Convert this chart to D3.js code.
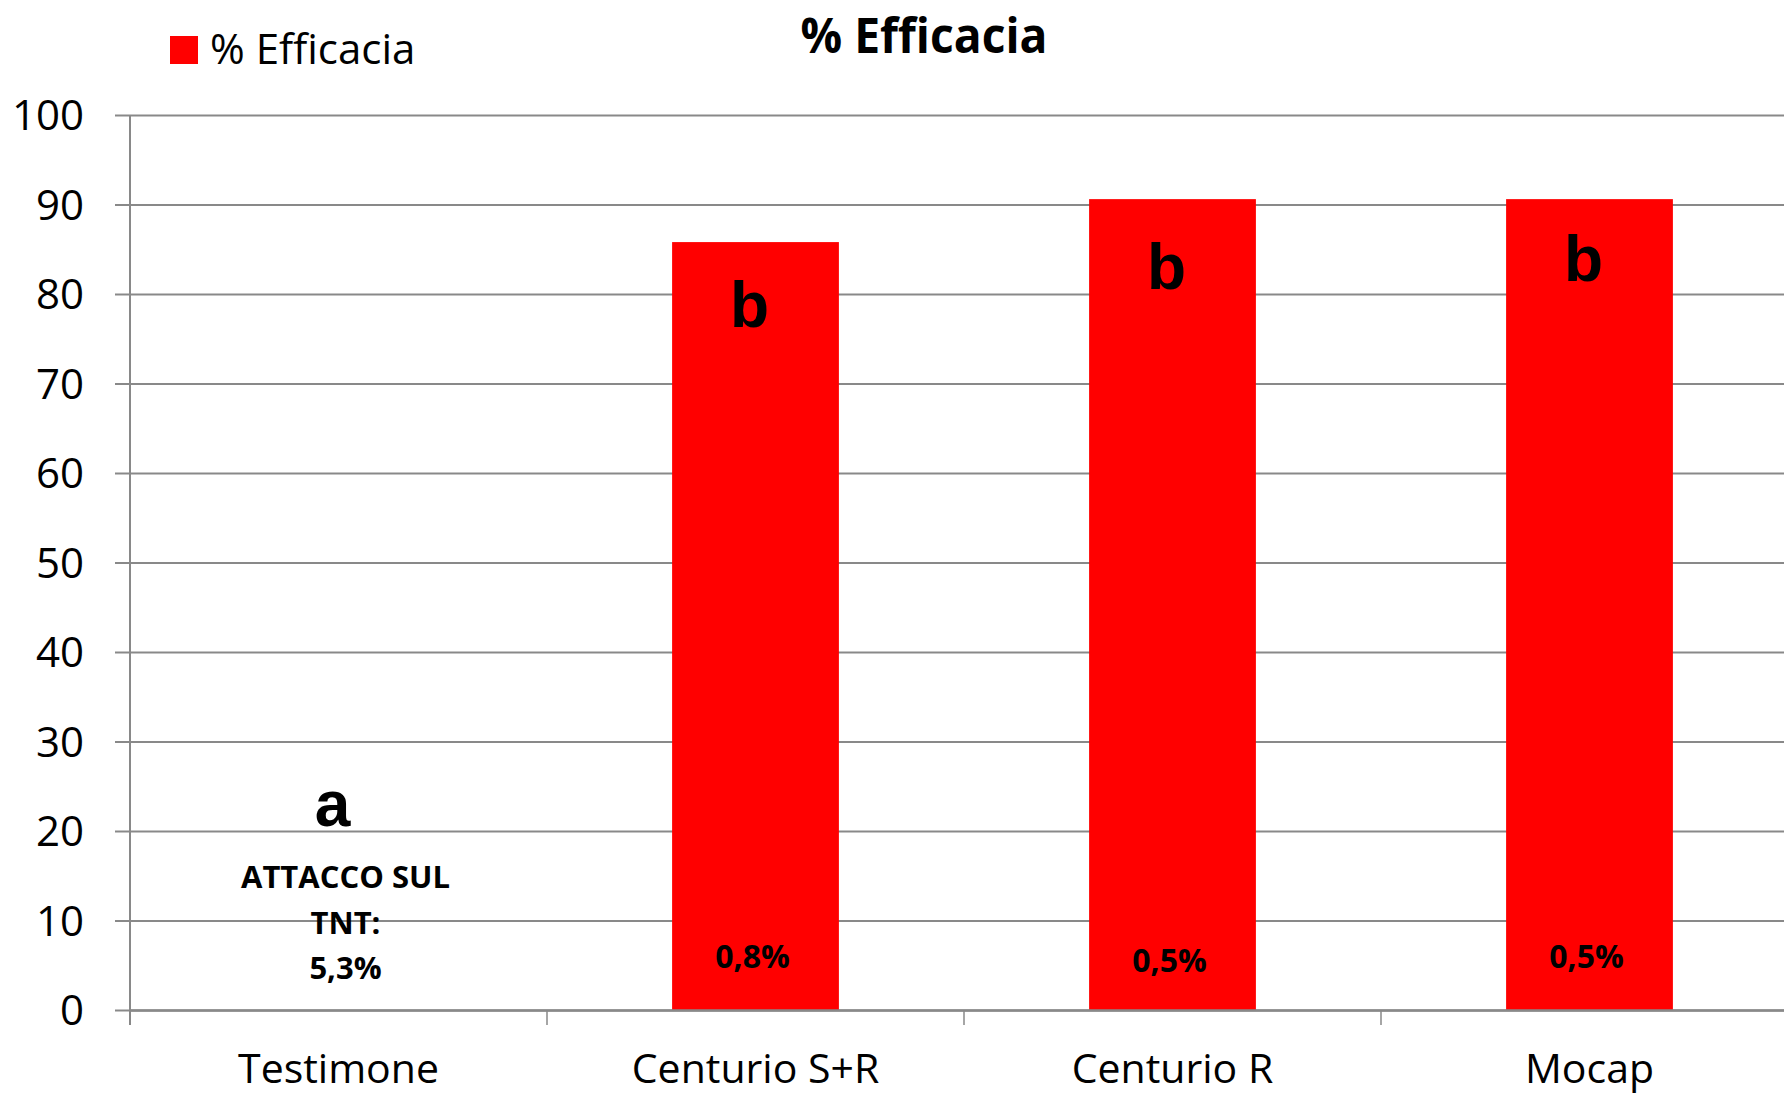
<!DOCTYPE html>
<html>
<head>
<meta charset="utf-8">
<script src="https://cdn.jsdelivr.net/npm/d3@7"></script>
<style>
  html, body { margin: 0; padding: 0; background: #fff; }
  #chart { width: 1784px; height: 1095px; }
  svg { display: block; font-family: "Open Sans", sans-serif; }
</style>
</head>
<body>
<div id="chart"><svg></svg></div>
<script>
// data
var categories = ["Testimone", "Centurio S+R", "Centurio R", "Mocap"];
var efficacia = [0, 85.8, 90.6, 90.6];
var letters = ["a", "b", "b", "b"];
var letterAt = [20.6, 76.3, 80.6, 81.5];      // where the letters sit, in axis units
var attacco = ["5,3%", "0,8%", "0,5%", "0,5%"];
var yTicks = [0, 10, 20, 30, 40, 50, 60, 70, 80, 90, 100];

const width = 1784;
const height = 1095;
const margin = {top: 115, right: -14, bottom: 85, left: 130};
const plotWidth = width - margin.left - margin.right;
const plotHeight = height - margin.top - margin.bottom;
const grey = "#898989";

var svg = d3.select("#chart svg")
    .attr("width", width)
    .attr("height", height);

var data = categories.map(function(c, i) {
  return {cat: c, val: efficacia[i], letter: letters[i], at: letterAt[i], att: attacco[i]};
});

// scales
var xScale = d3.scaleBand()
    .domain(categories)
    .range([0, plotWidth])
    .paddingInner(0.6)
    .paddingOuter(0.3);
var xCat = d3.scaleBand()
    .domain(categories)
    .range([0, plotWidth])
    .padding(0);
var yScale = d3.scaleLinear()
    .domain([0, 100])
    .range([plotHeight, 0]);

var g = svg.append("g")
    .attr("transform", "translate(" + margin.left + "," + margin.top + ")");

// gridlines + left ticks
var yAxis = g.append("g")
    .call(d3.axisLeft(yScale).tickValues(yTicks).tickSize(-(plotWidth + 15)).tickSizeOuter(0).tickPadding(0));
yAxis.select(".domain").remove();
yAxis.selectAll(".tick line")
    .attr("x1", -15)
    .attr("x2", plotWidth)
    .attr("stroke", grey)
    .attr("stroke-width", 2);
yAxis.selectAll(".tick text")
    .attr("x", -46)
    .attr("dy", "0.35em")
    .attr("fill", "#000")
    .style("font-size", "42px")
    .style("font-family", "Open Sans, sans-serif");

// bars
g.selectAll(".bar")
    .data(data.filter(function(d) { return d.val > 0; }))
    .enter()
    .append("rect")
    .attr("class", "bar")
    .attr("x", function(d) { return xScale(d.cat); })
    .attr("y", function(d) { return yScale(d.val); })
    .attr("width", xScale.bandwidth())
    .attr("height", function(d) { return yScale(0) - yScale(d.val); })
    .attr("fill", "#ff0000");

// y axis line
g.append("line")
    .attr("x1", 0).attr("x2", 0)
    .attr("y1", 0).attr("y2", plotHeight + 15)
    .attr("stroke", grey).attr("stroke-width", 2);

// x axis
var xAxis = g.append("g")
    .attr("transform", "translate(0," + plotHeight + ")")
    .call(d3.axisBottom(xCat).tickSize(0).tickSizeOuter(0).tickPadding(0));
xAxis.select(".domain")
    .attr("stroke", grey)
    .attr("stroke-width", 2.5);
xAxis.selectAll(".tick text")
    .attr("y", 73)
    .attr("dy", 0)
    .attr("fill", "#000")
    .style("font-size", "41px")
    .style("font-family", "Open Sans, sans-serif");
xAxis.selectAll(".bound")
    .data(categories)
    .enter()
    .append("line")
    .attr("class", "bound")
    .attr("x1", function(d) { return xCat(d); })
    .attr("x2", function(d) { return xCat(d); })
    .attr("y1", 0)
    .attr("y2", 15)
    .attr("stroke", grey)
    .attr("stroke-width", 1.5);

// significance letters
g.selectAll(".letter")
    .data(data)
    .enter()
    .append("text")
    .attr("class", "letter")
    .attr("x", function(d) { return xCat(d.cat) + xCat.bandwidth() / 2 - 6; })
    .attr("y", function(d) { return yScale(d.at); })
    .attr("text-anchor", "middle")
    .style("font-family", "Liberation Sans, Arial, sans-serif")
    .style("font-weight", "bold")
    .style("font-size", "64px")
    .text(function(d) { return d.letter; });

// attack % inside bars
g.selectAll(".att")
    .data(data.filter(function(d) { return d.val > 0; }))
    .enter()
    .append("text")
    .attr("class", "att")
    .attr("x", function(d) { return xCat(d.cat) + xCat.bandwidth() / 2 - 3; })
    .attr("y", function(d, i) { return yScale(i === 1 ? 4.25 : 4.7); })
    .attr("text-anchor", "middle")
    .style("font-weight", "bold")
    .style("font-size", "32px")
    .text(function(d) { return d.att; });

// control note
var note = g.append("text")
    .attr("x", xCat(categories[0]) + xCat.bandwidth() / 2 + 7)
    .attr("y", yScale(13.6))
    .attr("text-anchor", "middle")
    .style("font-weight", "bold")
    .style("font-size", "31px");
["ATTACCO SUL", "TNT:", data[0].att].forEach(function(t, i) {
  note.append("tspan")
      .attr("x", xCat(categories[0]) + xCat.bandwidth() / 2 + 7)
      .attr("dy", i === 0 ? 0 : 45.5)
      .text(t);
});

// title
svg.append("text")
    .attr("x", 924)
    .attr("y", 53)
    .attr("text-anchor", "middle")
    .attr("textLength", 247)
    .attr("lengthAdjust", "spacingAndGlyphs")
    .style("font-weight", "bold")
    .style("font-size", "48px")
    .text("% Efficacia");

// legend
var legend = svg.append("g").attr("transform", "translate(170,36)");
legend.append("rect")
    .attr("width", 28).attr("height", 28)
    .attr("fill", "#ff0000");
legend.append("text")
    .attr("x", 40)
    .attr("y", 28)
    .style("font-size", "42px")
    .text("% Efficacia");
</script>
</body>
</html>
